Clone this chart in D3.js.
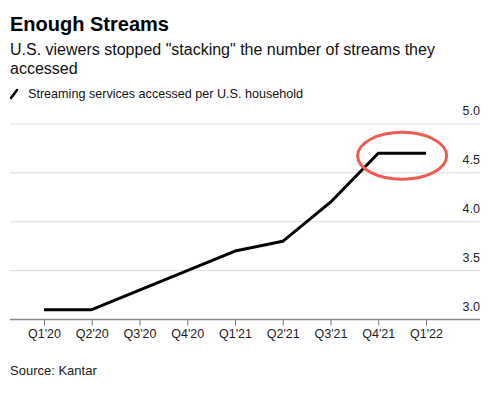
<!DOCTYPE html>
<html>
<head>
<meta charset="utf-8">
<script src="https://cdn.jsdelivr.net/npm/d3@7"></script>
<style>
  body { margin: 0; background: #fff; }
  svg { display: block; font-family: "Liberation Sans", Arial, sans-serif; }
</style>
</head>
<body>
<script>
var quarters = ["Q1'20", "Q2'20", "Q3'20", "Q4'20", "Q1'21", "Q2'21", "Q3'21", "Q4'21", "Q1'22"];
var services = [3.1, 3.1, 3.3, 3.5, 3.7, 3.8, 4.2, 4.7, 4.7];
var yTicks = [3.0, 3.5, 4.0, 4.5, 5.0];

var svgWidth = 500, svgHeight = 396;
var gridLeft = 10, gridRight = 480;

var svg = d3.select('body')
    .append('svg')
    .attr('width', svgWidth)
    .attr('height', svgHeight);

// header
svg.append('text')
    .attr('x', 10).attr('y', 31)
    .attr('font-size', 20).attr('font-weight', 'bold')
    .attr('fill', '#000')
    .text('Enough Streams');

var sub = svg.append('text')
    .attr('font-size', 16).attr('fill', '#111');
sub.append('tspan').attr('x', 10).attr('y', 55)
    .text('U.S. viewers stopped "stacking" the number of streams they');
sub.append('tspan').attr('x', 10).attr('y', 74)
    .text('accessed');

// legend
svg.append('line')
    .attr('x1', 11).attr('y1', 98).attr('x2', 17).attr('y2', 90)
    .attr('stroke', '#000').attr('stroke-width', 2.6)
    .attr('stroke-linecap', 'round');
svg.append('text')
    .attr('x', 28).attr('y', 98)
    .attr('font-size', 12.6).attr('fill', '#111')
    .text('Streaming services accessed per U.S. household');

var xScale = d3.scalePoint()
    .domain(quarters)
    .range([44, 426]);

var yScale = d3.scaleLinear()
    .domain([3.0, 5.0])
    .range([319.5, 124]);

// gridlines + labels
svg.selectAll('.grid')
    .data(yTicks.filter(function(d) { return d > 3; }))
    .enter().append('line')
    .attr('class', 'grid')
    .attr('x1', gridLeft).attr('x2', gridRight)
    .attr('y1', function(d) { return yScale(d); })
    .attr('y2', function(d) { return yScale(d); })
    .attr('stroke', '#dcdcdc').attr('stroke-width', 1);

svg.selectAll('.ylab')
    .data(yTicks)
    .enter().append('text')
    .attr('class', 'ylab')
    .attr('x', gridRight)
    .attr('y', function(d) { return yScale(d) - 9; })
    .attr('text-anchor', 'end')
    .attr('font-size', 12.5).attr('fill', '#222')
    .text(function(d) { return d.toFixed(1); });

// x axis
var xAxis = d3.axisBottom(xScale).tickSize(6).tickPadding(4);
var gx = svg.append('g')
    .attr('transform', 'translate(0,' + yScale(3.0) + ')')
    .call(xAxis);
gx.select('.domain').remove();
gx.selectAll('.tick line').attr('stroke', '#777');
gx.selectAll('.tick text')
    .attr('font-size', 12.5).attr('fill', '#222')
    .attr('font-family', '"Liberation Sans", Arial, sans-serif');
svg.append('line')
    .attr('x1', gridLeft).attr('x2', gridRight)
    .attr('y1', yScale(3.0)).attr('y2', yScale(3.0))
    .attr('stroke', '#888').attr('stroke-width', 1.5);

// series line
var line = d3.line()
    .x(function(d, i) { return xScale(quarters[i]); })
    .y(function(d) { return yScale(d); });

svg.append('path')
    .datum(services)
    .attr('d', line)
    .attr('fill', 'none')
    .attr('stroke', '#000')
    .attr('stroke-width', 3)
    .attr('stroke-linejoin', 'round');

// highlight ellipse around the plateau
var last = services.length - 1;
svg.append('ellipse')
    .attr('cx', (xScale(quarters[last - 1]) + xScale(quarters[last])) / 2)
    .attr('cy', yScale(services[last]) + 2.5)
    .attr('rx', 44.5).attr('ry', 23.5)
    .attr('fill', 'none')
    .attr('stroke', '#ef5b52')
    .attr('stroke-width', 3);

// source
svg.append('text')
    .attr('x', 10).attr('y', 375)
    .attr('font-size', 13).attr('fill', '#222')
    .text('Source: Kantar');
</script>
</body>
</html>
